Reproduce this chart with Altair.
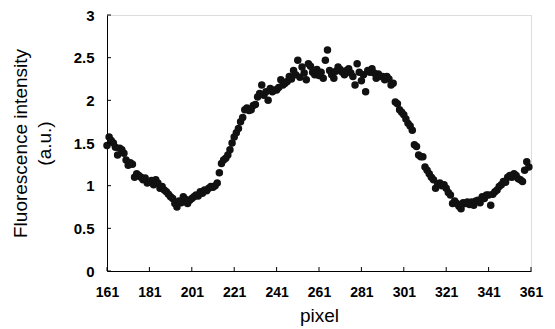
import altair as alt
import pandas as pd

pixels = list(range(161, 361))
intensity = [
    1.47, 1.57, 1.53, 1.50, 1.45, 1.36, 1.44, 1.42, 1.38, 1.30,
    1.24, 1.27, 1.25, 1.10, 1.14, 1.12, 1.10, 1.07, 1.09, 1.03,
    1.04, 1.06, 1.01, 1.07, 1.03, 0.97, 0.99, 0.95, 0.93, 0.90,
    0.87, 0.85, 0.79, 0.75, 0.82, 0.80, 0.87, 0.84, 0.79, 0.83,
    0.85, 0.87, 0.89, 0.88, 0.93, 0.91, 0.95, 0.94, 0.97, 0.99,
    0.98, 1.00, 1.03, 1.15, 1.26, 1.30, 1.32, 1.36, 1.42, 1.50,
    1.57, 1.62, 1.67, 1.75, 1.80, 1.89, 1.91, 1.88, 1.89, 1.94,
    1.95, 2.04, 2.08, 2.18, 2.06, 2.10, 2.00, 2.14, 2.10, 2.12,
    2.12, 2.15, 2.24, 2.18, 2.20, 2.22, 2.28, 2.25, 2.35, 2.30,
    2.47, 2.27, 2.39, 2.32, 2.24, 2.43, 2.40, 2.33, 2.30, 2.36,
    2.29, 2.33, 2.26, 2.47, 2.59, 2.35, 2.30, 2.26, 2.34, 2.39,
    2.36, 2.33, 2.30, 2.35, 2.37, 2.32, 2.28, 2.18, 2.43, 2.33,
    2.23, 2.30, 2.10, 2.35, 2.33, 2.37, 2.32, 2.26, 2.31, 2.28,
    2.28, 2.24, 2.28, 2.25, 2.18, 2.20, 1.98, 1.96, 1.89, 1.86,
    1.83, 1.78, 1.73, 1.70, 1.65, 1.48, 1.46, 1.36, 1.34, 1.34,
    1.22, 1.18, 1.14, 1.10, 1.07, 0.97, 1.02, 1.03, 1.00, 1.01,
    0.97, 0.92, 0.89, 0.79, 0.82, 0.79, 0.76, 0.73, 0.80, 0.79,
    0.81, 0.78, 0.81, 0.77, 0.82, 0.83, 0.80, 0.87, 0.85, 0.89,
    0.89, 0.77, 0.90, 0.93, 0.95, 0.99, 1.01, 1.05, 1.04, 1.10,
    1.12, 1.10, 1.14, 1.12, 1.08, 1.07, 1.05, 1.18, 1.28, 1.22,
]

x_ticks = [161, 181, 201, 221, 241, 261, 281, 301, 321, 341, 361]
y_ticks = [0, 0.5, 1, 1.5, 2, 2.5, 3]

df = pd.DataFrame({"pixel": pixels, "intensity": intensity})
xt = pd.DataFrame({"t": x_ticks})
yt = pd.DataFrame({"t": y_ticks})

FONT = "Liberation Sans"

xscale = alt.Scale(domain=[161, 361], nice=False, zero=False)
yscale = alt.Scale(domain=[0, 3], nice=False)

points = alt.Chart(df).mark_circle(size=56, color="#111111", opacity=1).encode(
    x=alt.X(
        "pixel:Q",
        scale=xscale,
        axis=alt.Axis(
            values=x_ticks,
            title="pixel",
            ticks=False,
            grid=False,
            domainColor="#000000",
            labelFont=FONT,
            labelFontSize=14,
            labelFontWeight="bold",
            labelColor="#000000",
            labelPadding=14,
            labelFlush=False,
            titleFont=FONT,
            titleFontSize=19,
            titleFontWeight="normal",
            titleColor="#000000",
            titlePadding=7,
        ),
    ),
    y=alt.Y(
        "intensity:Q",
        scale=yscale,
        axis=alt.Axis(
            values=y_ticks,
            format="~g",
            title=["Fluorescence intensity", "(a.u.)"],
            ticks=False,
            grid=False,
            domainColor="#000000",
            labelFont=FONT,
            labelFontSize=15,
            labelFontWeight="bold",
            labelColor="#000000",
            labelPadding=13,
            labelFlush=False,
            titleFont=FONT,
            titleFontSize=19,
            titleFontWeight="normal",
            titleColor="#000000",
            titlePadding=19,
            titleLineHeight=24,
        ),
    ),
)

xtick_marks = alt.Chart(xt).mark_rule(color="#000000", strokeWidth=1).encode(
    x=alt.X("t:Q", scale=xscale),
    y=alt.value(256),
    y2=alt.value(252),
)

ytick_marks = alt.Chart(yt).mark_rule(color="#000000", strokeWidth=1).encode(
    y=alt.Y("t:Q", scale=yscale),
    x=alt.value(0),
    x2=alt.value(4),
)

chart = (
    alt.layer(points, xtick_marks, ytick_marks)
    .properties(
        width=424,
        height=256,
        autosize=alt.AutoSizeParams(type="none"),
        padding={"left": 99, "top": 7, "right": 16, "bottom": 58},
    )
    .configure_view(stroke=None)
    .configure(background="#ffffff")
)

chart.save("out.html", embed_options={"renderer": "svg", "actions": False})
